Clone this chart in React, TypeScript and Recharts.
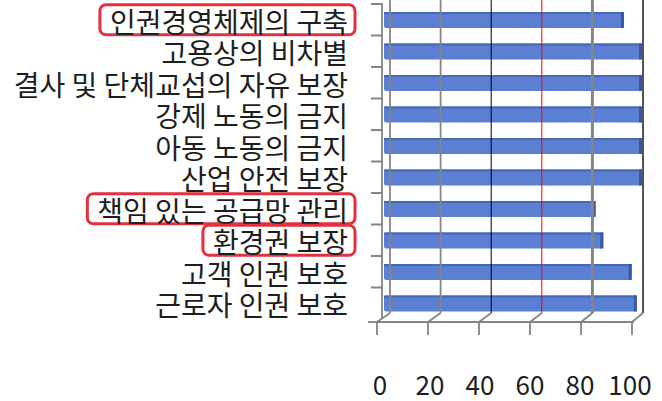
import React from 'react';
import { BarChart, Bar, XAxis, YAxis } from 'recharts';

const categories = [
  '인권경영체제의 구축',
  '고용상의 비차별',
  '결사 및 단체교섭의 자유 보장',
  '강제 노동의 금지',
  '아동 노동의 금지',
  '산업 안전 보장',
  '책임 있는 공급망 관리',
  '환경권 보장',
  '고객 인권 보호',
  '근로자 인권 보호',
];
const values = [93, 100, 100, 100, 100, 100, 82, 85, 96, 98];
const highlighted = ['인권경영체제의 구축', '책임 있는 공급망 관리', '환경권 보장'];
const xTicks = [0, 20, 40, 60, 80, 100];

const data = categories.map((name, i) => ({ name, value: values[i] }));

const W = 662;
const H = 401;
const PLOT_TOP = 4;
const X_AXIS_H = 82;
const PLOT_H = H - PLOT_TOP - X_AXIS_H;
const BAND = PLOT_H / categories.length;
const BAR_SIZE = 16;
const FS = 28;
const FONT = '"Noto Sans CJK KR", "Noto Sans", sans-serif';
const GRID = '#858585';
const FLOOR_FRONT = H - X_AXIS_H + 3;
const FLOOR_BACK = FLOOR_FRONT - 9;

const DIAG: Record<number, [string, number]> = {
  0: ['#858585', 1.8],
  20: ['#858585', 1.8],
  40: ['#000000', 1],
  60: ['#ff0000', 1],
  80: ['#858585', 3],
  100: ['#555555', 2],
};

let ctx: CanvasRenderingContext2D | null = null;
function measure(t: string): number {
  if (!ctx) ctx = document.createElement('canvas').getContext('2d');
  if (!ctx) return t.length * FS;
  ctx.font = `${FS}px ${FONT}`;
  return ctx.measureText(t).width;
}

const XTick = (props: any) => {
  const { x, payload } = props;
  const v: number = payload.value;
  const fx = x - 7 - 0.03 * v;
  const bx = x + 6 - 0.05 * v;
  const d = `M${fx},${FLOOR_FRONT + 13}V${FLOOR_FRONT}L${bx},${FLOOR_BACK}`;
  const [col, sw] = DIAG[v];
  return (
    <g>
      <path d={d} stroke={GRID} strokeWidth={1.8} fill="none" />
      <rect x={bx - sw / 2} y={0} width={sw} height={FLOOR_BACK} fill={col} />
      <text
        x={x - 4 - 0.08 * v}
        y={383}
        textAnchor="middle"
        dominantBaseline="central"
        fontSize={26}
        fontFamily={FONT}
        fill="#1e1e1e"
      >
        {v}
      </text>
    </g>
  );
};

const YTick = (props: any) => {
  const { y, payload, index } = props;
  const label: string = payload.value;
  const isHi = highlighted.includes(label);
  const w = isHi ? measure(label) : 0;
  const right = 348;
  const top = y - BAND / 2;
  const bottom = y + BAND / 2;
  return (
    <g>
      <path d={`M371,${top}H382V${bottom}`} stroke={GRID} strokeWidth={1.8} fill="none" />
      {index === categories.length - 1 && (
        <path d={`M368,${bottom + 3}H378`} stroke={GRID} strokeWidth={1.8} fill="none" />
      )}
      {isHi && (
        <rect
          x={right - w - 10}
          y={y - 15}
          width={w + 17}
          height={30}
          rx={6}
          fill="none"
          stroke="#e2323f"
          strokeWidth={3}
        />
      )}
      <text
        x={right}
        y={y + 1}
        textAnchor="end"
        dominantBaseline="central"
        fontSize={FS}
        fontFamily={FONT}
        fill="#1e1e1e"
      >
        {label}
      </text>
    </g>
  );
};

const Bar3D = (props: any) => {
  const { x, y, width, height } = props;
  if (!width || width <= 0) return null;
  return (
    <g>
      <rect x={x} y={y} width={width} height={height} rx={2} fill="#5b7fd3" />
      <rect x={x} y={y} width={width} height={2} fill="#4767bb" />
      <rect x={x + width - 3} y={y} width={3} height={height} fill="#3a57a6" />
    </g>
  );
};

export default function App() {
  return (
    <div style={{ position: 'absolute', left: 0, top: 0, width: W, height: H, background: '#fff' }}>
      <BarChart
        width={W}
        height={H}
        data={data}
        layout="vertical"
        margin={{ top: PLOT_TOP, right: 20, bottom: 0, left: 0 }}
        barCategoryGap={0}
      >
        <XAxis
          type="number"
          domain={[0, 100]}
          ticks={xTicks}
          height={X_AXIS_H}
          tick={<XTick />}
          tickLine={false}
          axisLine={{ stroke: GRID, strokeWidth: 1.8, transform: 'translate(-8,3)' }}
        />
        <YAxis
          type="category"
          dataKey="name"
          width={384}
          tick={<YTick />}
          tickLine={false}
          axisLine={false}
          interval={0}
        />
        <Bar dataKey="value" barSize={BAR_SIZE} shape={<Bar3D />} isAnimationActive={false} />
      </BarChart>
    </div>
  );
}
